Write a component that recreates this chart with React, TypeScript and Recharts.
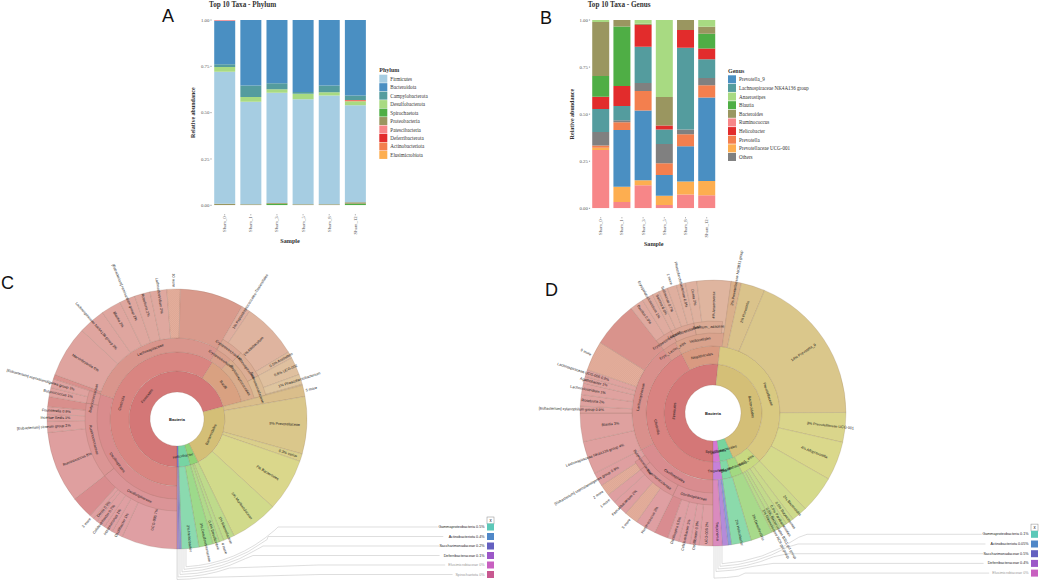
import React from 'react';
import { BarChart, Bar, XAxis, YAxis, PieChart, Pie, Cell } from 'recharts';

const samples = ['Sham_0', 'Sham_1', 'Sham_3', 'Sham_5', 'Sham_8', 'Sham_12'];
const yTicks = [0, 0.25, 0.5, 0.75, 1];

// Panel A, bottom of stack first
const spirochaetota = [0, 0, 0.008, 0, 0, 0.008];
const proteobacteria = [0.008, 0.006, 0.004, 0.006, 0.006, 0.008];
const firmicutes = [0.713, 0.553, 0.596, 0.566, 0.586, 0.524];
const desulfobacterota = [0.025, 0.025, 0.018, 0.03, 0.018, 0.021];
const actinobacteriota = [0, 0, 0, 0, 0, 0.004];
const deferribacterota = [0, 0, 0, 0, 0, 0.003];
const campylobacterota = [0.015, 0.063, 0.032, 0.009, 0.036, 0.024];
const bacteroidota = [0.235, 0.353, 0.342, 0.389, 0.354, 0.408];
const patescibacteria = [0.004, 0, 0, 0, 0, 0];
const elusimicrobiota = [0, 0, 0, 0, 0, 0];

const phylumLegend = ['Firmicutes', 'Bacteroidota', 'Campylobacterota', 'Desulfobacterota', 'Spirochaetota', 'Proteobacteria', 'Patescibacteria', 'Deferribacterota', 'Actinobacteriota', 'Elusimicrobiota'];
const phylumStack = ['Spirochaetota', 'Proteobacteria', 'Firmicutes', 'Desulfobacterota', 'Actinobacteriota', 'Deferribacterota', 'Campylobacterota', 'Bacteroidota', 'Patescibacteria', 'Elusimicrobiota'];
const phylumValues = [spirochaetota, proteobacteria, firmicutes, desulfobacterota, actinobacteriota, deferribacterota, campylobacterota, bacteroidota, patescibacteria, elusimicrobiota];
const phylumColors: Record<string, string> = {
  Firmicutes: '#a6cde2', Bacteroidota: '#4a8fc2', Campylobacterota: '#549c9e', Desulfobacterota: '#a8da82', Spirochaetota: '#4fae45',
  Proteobacteria: '#9a9660', Patescibacteria: '#f78688', Deferribacterota: '#e22c2c', Actinobacteriota: '#f37f4e', Elusimicrobiota: '#fdae50',
};

// Panel B, bottom of stack first
const ruminococcus = [0.31, 0.034, 0.122, 0.018, 0.073, 0.069];
const prevotellaceaeUCG = [0.012, 0.081, 0.027, 0.048, 0.069, 0.076];
const prevotella9 = [0, 0.301, 0.37, 0.111, 0.187, 0.443];
const prevotella = [0.011, 0.041, 0.104, 0.062, 0.064, 0.065];
const others = [0.072, 0.01, 0.042, 0.103, 0.025, 0.039];
const lachnoNK = [0.122, 0.076, 0.193, 0.077, 0.435, 0.099];
const helicobacter = [0.065, 0.107, 0.115, 0.021, 0.094, 0.058];
const blautia = [0.11, 0.315, 0, 0, 0, 0.078];
const bacteroides = [0.288, 0.035, 0.007, 0.151, 0.053, 0.037];
const anaerostipes = [0.01, 0, 0.02, 0.409, 0, 0.036];

const genusLegend = ['Prevotella_9', 'Lachnospiraceae NK4A136 group', 'Anaerostipes', 'Blautia', 'Bacteroides', 'Ruminococcus', 'Helicobacter', 'Prevotella', 'Prevotellaceae UCG-001', 'Others'];
const genusStack = ['Ruminococcus', 'Prevotellaceae UCG-001', 'Prevotella_9', 'Prevotella', 'Others', 'Lachnospiraceae NK4A136 group', 'Helicobacter', 'Blautia', 'Bacteroides', 'Anaerostipes'];
const genusValues = [ruminococcus, prevotellaceaeUCG, prevotella9, prevotella, others, lachnoNK, helicobacter, blautia, bacteroides, anaerostipes];
const genusColors: Record<string, string> = {
  Prevotella_9: '#4a8fc2', 'Lachnospiraceae NK4A136 group': '#549c9e', Anaerostipes: '#a8da82', Blautia: '#4fae45', Bacteroides: '#9a9660',
  Ruminococcus: '#f78688', Helicobacter: '#e22c2c', Prevotella: '#f37f4e', 'Prevotellaceae UCG-001': '#fdae50', Others: '#808080',
};

type Seg = { n: string; p?: string; v: number; gap?: boolean };
const G = (v: number): Seg => ({ n: '', v, gap: true });

// Panel C: shares in degrees, clockwise from six o'clock
const cPhylum: Seg[] = [{ n: 'Firmicutes', v: 255 }, { n: 'Bacteroidales', v: 79 }, { n: '', v: 10 }, { n: 'Helicobacter', v: 14 }, { n: '', v: 2 }];
const cClass: Seg[] = [{ n: 'Clostridia', v: 212 }, { n: 'Bacilli', v: 43 }, G(105)];
const cOrder: Seg[] = [{ n: 'Oscillospirales', v: 108 }, { n: 'Lachnospiraceae', v: 102 }, { n: 'Erysipelotrichales', v: 12 }, { n: 'Peptostreptococcales', v: 33 }, G(105)];
const cFamily: Seg[] = [{ n: 'Oscillospiraceae', v: 52 }, { n: 'Ruminococcaceae', v: 48 }, { n: 'Butyricicoccaceae', v: 8 }, G(102), { n: 'Erysipelotrichaceae', v: 14 }, { n: 'Lachnospiraceae', v: 18 }, { n: 'Selenomonadaceae', v: 13 }, G(105)];
const cGenus: Seg[] = [
  { n: 'UCG-005', p: '7%', v: 25 }, { n: 'Oscillibacter', p: '1%', v: 5 }, { n: 'Intestinimonas', p: '1%', v: 4 }, { n: 'Colidextribacter', p: '0.7%', v: 4 }, { n: 'Dorea', p: '0.5%', v: 2 }, { n: '3 more', v: 2 },
  { n: '', v: 10 }, { n: 'Ruminococcus', p: '8%', v: 32 }, { n: '[Eubacterium] siraeum group', p: '2%', v: 5 }, { n: 'Incertae Sedis', p: '1%', v: 3 }, { n: 'Fournierella', p: '0.9%', v: 3.5 },
  { n: '', v: 4.5 }, { n: 'Butyricicoccus', p: '1%', v: 4 }, { n: '[Eubacterium] coprostanoligenes group', p: '1%', v: 4 }, { n: '', v: 2 }, { n: 'Marvinbryantia', p: '6%', v: 23 },
  { n: 'Lachnospiraceae NK4A136 group', p: '3%', v: 12 }, { n: 'Blautia', p: '2%', v: 9 }, { n: '[Eubacterium] ruminantium group', p: '2%', v: 7 }, { n: 'Roseburia', p: '2%', v: 7 }, { n: 'Lachnoclostridium', p: '2%', v: 7.5 },
  { n: '10 more', v: 6 }, { n: '', v: 28.5 }, { n: 'Peptostreptococcales-Tissierellales', p: '1%', v: 4 }, { n: 'Allobaculum', p: '1%', v: 25 }, { n: 'Acetivibrio', p: '0.5%', v: 3 }, { n: 'UCG-002', p: '0.8%', v: 8 },
  { n: 'Phascolarctobacterium', p: '1%', v: 4.5 }, { n: '', v: 0.5 }, G(105),
];
const cWedge: Seg[] = [
  G(255), { n: '5 more', v: 5 }, { n: 'Prevotellaceae', p: '9%', v: 25.6 }, { n: 'varius', p: '0.3%', v: 3.4 }, { n: 'Bacteroides', p: '7%', v: 23.6 }, { n: 'Muribaculaceae', p: '5%', v: 21.4 },
  { n: 'Rikenellaceae', p: '1%', v: 5 }, { n: '4 more', v: 2 }, { n: 'Desulfovibrio', p: '0.4%', v: 3 }, { n: 'Desulfovibrionaceae', p: '3%', v: 6.3 }, { n: 'Helicobacter', p: '2%', v: 7.7 },
  { n: '', v: 0.7 }, { n: '', v: 0.7 }, { n: '', v: 0.6 },
];
const cKeyNames = ['Gammaproteobacteria', 'Actinobacteriota', 'Saccharimonadaceae', 'Deferribacteraceae', 'Elusimicrobiaceae', 'Spirochaetota'];
const cKeyPct = ['0.5%', '0.4%', '0.2%', '0.1%', '0%', '0%'];
const cHues = [[0, 356], [100, 2], [190, 10], [212, 14], [235, 22], [256, 38], [272, 45], [300, 57], [325, 68], [340, 85], [347, 105], [354, 145], [358, 210], [360, 275]];
const cPhylumHues = [[0, 0], [255, 0], [256, 46], [334, 46], [335, 105], [344, 105], [345, 148], [358, 148], [359, 240], [360, 240]];

// Panel D
const dPhylum: Seg[] = [{ n: 'Firmicutes', v: 186 }, { n: 'Bacteroidales', v: 150 }, { n: 'Helicobacterales', v: 16 }, { n: 'Spirochaetia', v: 8 }];
const dClass: Seg[] = [{ n: 'Clostridia', v: 152 }, { n: 'Negativicutes', v: 34 }, { n: 'Prevotellaceae', v: 130 }, { n: 'Bact._ales', v: 18 }, { n: 'Desulfobacterota', v: 10 }, { n: 'Hel._ter', v: 8 }, { n: 'Treponema', v: 8 }];
const dOrder: Seg[] = [{ n: 'Oscillospirales', v: 63 }, { n: 'Lachnospiraceae', v: 79 }, { n: 'Erys._Lachn._ales', v: 10 }, { n: 'Veillonellales', v: 36 }, G(172)];
const dFamily: Seg[] = [{ n: 'Oscillospiraceae', v: 26 }, { n: 'Ruminococcaceae', v: 26 }, { n: 'Butyricicoccaceae', v: 6 }, G(84), { n: 'Erysipelotrichaceae', v: 11 }, { n: 'Lachnoclostridiaceae', v: 15 }, { n: 'Selenom._adaceae', v: 18 }, G(174)];
const dGenus: Seg[] = [
  { n: 'UCG-005', p: '2%', v: 6 }, { n: 'Oscillibacter', p: '0.9%', v: 4 }, { n: 'Colidextribacter', p: '1%', v: 5 }, { n: 'Oscillospira', p: '0.5%', v: 5 }, { n: '', v: 6 },
  { n: 'Ruminococcus', p: '2%', v: 9 }, { n: '5 more', v: 6 }, { n: 'Faecalibacterium', p: '2%', v: 7 }, { n: '1 more', v: 4 }, { n: '2 more', v: 5 },
  { n: '[Eubacterium] coprostanoligenes group', p: '0.9%', v: 6 }, { n: 'Lachnospiraceae NK4A136 group', p: '4%', v: 14.5 }, { n: 'Blautia', p: '3%', v: 12.5 }, { n: '[Eubacterium] xylanophilum group', p: '0.9%', v: 3 },
  { n: 'Roseburia', p: '2%', v: 5 }, { n: 'Lachnoclostridium', p: '1%', v: 5 }, { n: 'Agathobacter', p: '1%', v: 3 }, { n: 'Lachnospiraceae UCG-006', p: '0.9%', v: 3 }, { n: '9 more', v: 13 }, { n: '', v: 20 },
  { n: 'Bacillus', p: '0.9%', v: 6 }, { n: 'Erysipelatoclostridium', p: '1%', v: 5 }, { n: 'Sarcina', p: '0.6%', v: 3 }, { n: 'Sellimonas', p: '0.7%', v: 4 }, { n: '1 more', v: 4 }, { n: 'Phascolarctobacterium', p: '0.9%', v: 4 },
  { n: 'Dorea', p: '2%', v: 5 }, { n: 'Anaerovorax', p: '4%', v: 15 }, G(172),
];
const dWedge: Seg[] = [
  G(188), { n: 'Prevotellaceae NK3B31 group', p: '2%', v: 4.5 }, { n: 'Prevotella', p: '2%', v: 10.5 }, { n: 'Prevotella_9', p: '14%', v: 67 }, { n: 'Prevotellaceae UCG-001', p: '3%', v: 13 }, { n: 'Alloprevotella', p: '4%', v: 17 }, { n: '', v: 16.3 },
  { n: 'Bacteroides', p: '2%', v: 7 }, { n: 'Butyricimonas', p: '0.5%', v: 3.5 }, { n: 'Parabacteroides', p: '0.5%', v: 3 }, { n: 'Bacteroidales BS11 gut group', p: '0.8%', v: 2 }, { n: 'Rikenellaceae RC9 gut group', p: '1%', v: 2.2 },
  { n: 'Desulfovibrio', p: '3%', v: 9.6 }, { n: 'Helicobacter', p: '2%', v: 8.7 }, { n: '', v: 1.5 }, { n: '', v: 2.5 }, { n: 'Treponema', p: '', v: 4 },
];
const dKeyNames = ['Gammaproteobacteria', 'Actinobacteriota', 'Saccharimonadaceae', 'Deferribacteraceae', 'Elusimicrobiaceae'];
const dKeyPct = ['0.1%', '0.05%', '0.5%', '0.4%', '0%'];
const dHues = [[0, 355], [90, 2], [130, 5], [160, 14], [188, 22], [195, 42], [236, 45], [276, 56], [300, 60], [325, 72], [340, 100], [348, 145], [353, 225], [355, 270], [358, 320], [360, 330]];
const dPhylumHues = [[0, 0], [186, 0], [187, 46], [336, 46], [337, 145], [352, 145], [353, 300], [360, 300]];

const keyColors = ['#5cc8b8', '#5088c8', '#6460c0', '#9c58c8', '#c860c0', '#c85890'];

const SERIF = '"Liberation Serif", serif';
const SANS = '"Liberation Sans", Arial, sans-serif';
const LABEL_SIZE = 3.7;

function Letter({ x, y, t }: { x: number; y: number; t: string }) {
  return <div style={{ position: 'absolute', left: x, top: y - 16, font: `18px ${SANS}`, lineHeight: '18px', color: '#111' }}>{t}</div>;
}

function StackChart(props: any) {
  const { left, plotL, plotR, plotB, title, titleX, legendTitle, legendNames, legendX, legendY, legendStep, stack, values, colors, xLabelOffset, yTitleX, sampleY } = props;
  const W = 340, H = 250, yW = 40, xH = 20;
  const table = samples.map((s, i) => {
    const row: any = { sample: s };
    stack.forEach((name: string, k: number) => { row[name] = values[k][i]; });
    return row;
  });
  const tick = (p: any) => (
    <g>
      <line x1={p.x} x2={p.x} y1={p.y + xLabelOffset - 2} y2={p.y + xLabelOffset - 1} stroke="#555" strokeWidth={0.6} />
      <text transform={`translate(${p.x},${p.y + xLabelOffset}) rotate(-90)`} textAnchor="end" dominantBaseline="central" fontSize={4.8} fontFamily={SERIF} fill="#555">{p.payload.value}</text>
    </g>
  );
  return (
    <div style={{ position: 'absolute', left, top: 0, width: W, height: H }}>
      <BarChart width={W} height={H} data={table} barCategoryGap="10%" margin={{ left: plotL - yW, right: W - plotR, top: 20, bottom: H - plotB - xH }}>
        <XAxis dataKey="sample" interval={0} axisLine={false} tickLine={false} height={xH} tickSize={0} tick={tick} />
        <YAxis width={yW} domain={[0, 1]} ticks={yTicks} allowDataOverflow axisLine={false} tickSize={1.2} tickMargin={1} tickLine={{ stroke: '#555', strokeWidth: 0.6 }} tickFormatter={(v: number) => v.toFixed(2)} tick={{ fontSize: 4.8, fontFamily: SERIF, fill: '#555' }} />
        {stack.map((name: string) => (
          <Bar key={name} dataKey={name} stackId="s" fill={colors[name]} isAnimationActive={false} />
        ))}
        <text x={titleX} y={7} fontFamily={SERIF} fontWeight="bold" fontSize={7.2} fill="#333">{title}</text>
        <text x={(plotL + plotR) / 2} y={sampleY} textAnchor="middle" fontFamily={SERIF} fontWeight="bold" fontSize={6.2} fill="#333">Sample</text>
        <text transform={`translate(${yTitleX},${(20 + plotB) / 2}) rotate(-90)`} textAnchor="middle" dominantBaseline="central" fontFamily={SERIF} fontWeight="bold" fontSize={6} fill="#333">Relative abundance</text>
        <text x={legendX} y={legendY - 8.5} dominantBaseline="central" fontFamily={SERIF} fontWeight="bold" fontSize={6} fill="#333">{legendTitle}</text>
        {legendNames.map((name: string, i: number) => (
          <g key={name}>
            <rect x={legendX} y={legendY + i * legendStep - 4} width={8} height={8} fill={colors[name]} />
            <text x={legendX + 11} y={legendY + i * legendStep} dominantBaseline="central" fontFamily={SERIF} fontSize={5.1} fill="#333">{name}</text>
          </g>
        ))}
      </BarChart>
    </div>
  );
}

function hueAt(table: number[][], t: number) {
  for (let i = 1; i < table.length; i++) {
    if (t <= table[i][0]) {
      const [a, ha] = table[i - 1];
      const [b, hb] = table[i];
      let d = hb - ha;
      if (d < -180) d += 360;
      if (d > 180) d -= 360;
      return (ha + (d * (t - a)) / (b - a) + 360) % 360;
    }
  }
  return table[table.length - 1][1];
}

function Krona(props: any) {
  const { id, left, top, cx, cy, R, radii, rings, hues, phylumHues, keyNames, keyPct, keyX, keyY, keyStep, kinks } = props;
  const W = 520, H = 335;
  const { phylum, klass, order, family, genus, wedge } = rings;

  const cells = (data: Seg[], sat: number, light: number, table: number[][]) => {
    let acc = 0;
    return data.map((d, i) => {
      const mid = acc + d.v / 2;
      acc += d.v;
      if (d.gap) return <Cell key={i} fill="none" stroke="none" />;
      const hatched = / more$/.test(d.n) && d.v >= 5 && mid < 200;
      const blank = d.n === '' && light > 72;
      const fill = hatched ? `url(#${id}h)` : `hsl(${hueAt(table, mid).toFixed(1)},${sat}%,${blank ? light - 5 : light}%)`;
      return <Cell key={i} fill={fill} stroke="#7a5a4a" strokeOpacity={0.5} strokeWidth={0.35} />;
    });
  };

  const tangent = (rr: number) => (p: any) => {
    const name = p.n ?? p.payload?.n;
    if (!name) return null;
    const a = p.midAngle;
    const rad = (a * Math.PI) / 180;
    const x = p.cx + rr * Math.cos(rad);
    const y = p.cy - rr * Math.sin(rad);
    const rot = Math.sin(rad) >= 0 ? -a + 90 : -a - 90;
    return <text transform={`translate(${x},${y}) rotate(${rot})`} textAnchor="middle" dominantBaseline="central" fontSize={LABEL_SIZE} fontFamily={SANS} fill="#1a1a1a">{name}</text>;
  };

  const radial = (p: any) => {
    const name = p.n ?? p.payload?.n;
    if (!name) return null;
    const value = p.v ?? p.payload?.v;
    const pct = p.p ?? p.payload?.p;
    const a = p.midAngle;
    const rad = (a * Math.PI) / 180;
    const more = / more$/.test(name);
    const rr = more ? R + 2 : value >= 10 ? R * 0.71 : R * 0.82;
    const x = p.cx + rr * Math.cos(rad);
    const y = p.cy - rr * Math.sin(rad);
    const leftSide = Math.cos(rad) < 0;
    const rot = leftSide ? -a + 180 : -a;
    const label = pct ? (leftSide ? `${name}  ${pct}` : `${pct}  ${name}`) : name;
    return <text transform={`translate(${x},${y}) rotate(${rot})`} textAnchor={leftSide ? 'end' : 'start'} dominantBaseline="central" fontSize={LABEL_SIZE} fontFamily={SANS} fill="#1a1a1a">{label}</text>;
  };

  const ring = (data: Seg[], ir: number, or: number, s: number, l: number, label: any, table: number[][] = hues) => (
    <Pie data={data} dataKey="v" nameKey="n" cx={cx} cy={cy} innerRadius={ir} outerRadius={or} startAngle={270} endAngle={-90} paddingAngle={0} label={label} labelLine={false} isAnimationActive={false}>
      {cells(data, s, l, table)}
    </Pie>
  );

  const wheelEnds = [9, 7, 5, 3, 1, 0];
  return (
    <div style={{ position: 'absolute', left, top, width: W, height: H }}>
      <PieChart width={W} height={H} margin={{ left: 0, right: 0, top: 0, bottom: 0 }}>
        <defs>
          <pattern id={`${id}h`} width={1.4} height={1.4} patternUnits="userSpaceOnUse" patternTransform="rotate(45)">
            <rect width={1.4} height={1.4} fill="#e4ae9c" />
            <line x1={0} y1={0} x2={0} y2={1.4} stroke="#d49c88" strokeWidth={0.5} />
          </pattern>
        </defs>
        {keyNames.map((nm: string, i: number) => {
          const y = keyY + i * keyStep - top;
          const tx = keyX - left - 3 - (nm.length + keyPct[i].length + 2) * 1.85;
          const kx = kinks[i] - left;
          const dy = y + 3 - cy;
          const r = Math.max(R + 18 + i * 2.5, dy + 2);
          const px = cx + Math.sqrt(r * r - dy * dy);
          const sx = cx + wheelEnds[i];
          const sy = cy + Math.sqrt(r * r - wheelEnds[i] * wheelEnds[i]);
          return <path key={nm} d={`M${tx},${y} L${kx},${y} L${px},${y + 3} A${r},${r} 0 0 1 ${sx},${sy} L${sx},${cy + R}`} fill="none" stroke="#d0d0d0" strokeWidth={0.7} />;
        })}
        {ring(phylum, radii[0], radii[1], 52, 65, tangent((radii[0] + radii[1]) / 2), phylumHues)}
        {ring(klass, radii[1], radii[2], 54, 68, tangent((radii[1] + radii[2]) / 2))}
        {ring(order, radii[2], radii[3], 50, 70, tangent((radii[2] + radii[3]) / 2))}
        {ring(genus, radii[3], R, 50, 75, radial)}
        {ring(family, radii[3] - 1, radii[4], 50, 72, tangent((radii[3] + radii[4]) / 2 - 0.5))}
        {ring(wedge, props.wedgeR, R, 52, 70, radial)}
        <text x={cx} y={cy} textAnchor="middle" dominantBaseline="central" fontSize={4} fontWeight="bold" fontFamily={SANS} fill="#111">Bacteria</text>
        <rect x={keyX - left} y={keyY - keyStep - top - 0.5} width={7} height={7} fill="#fff" stroke="#888" strokeWidth={0.5} />
        <text x={keyX - left + 3.5} y={keyY - keyStep - top + 3} textAnchor="middle" dominantBaseline="central" fontSize={4.5} fontFamily={SANS} fill="#111">x</text>
        {keyNames.map((nm: string, i: number) => {
          const y = keyY + i * keyStep - top;
          const muted = keyPct[i] === '0%';
          return (
            <g key={nm}>
              <rect x={keyX - left} y={y - 3.5} width={7} height={7} fill={keyColors[i]} />
              <text x={keyX - left - 2.5} y={y} textAnchor="end" dominantBaseline="central" fontSize={LABEL_SIZE} fontFamily={SANS} fill={muted ? '#999' : '#222'}>{`${nm}  ${keyPct[i]}`}</text>
            </g>
          );
        })}
      </PieChart>
    </div>
  );
}

export default function App() {
  return (
    <div style={{ position: 'absolute', left: 0, top: 0, width: 1040, height: 585, background: '#fff', overflow: 'hidden' }}>
      <StackChart left={150} plotL={61.6} plotR={218.4} plotB={205.3} title="Top 10 Taxa - Phylum" titleX={59} legendTitle="Phylum" legendNames={phylumLegend} legendX={229.3} legendY={78.7} legendStep={8.47} stack={phylumStack} values={phylumValues} colors={phylumColors} xLabelOffset={9} yTitleX={42.7} sampleY={243} />
      <StackChart left={510} plotL={80.1} plotR={207.3} plotB={208.3} title="Top 10 Taxa - Genus" titleX={77.7} legendTitle="Genus" legendNames={genusLegend} legendX={218} legendY={79.3} legendStep={8.63} stack={genusStack} values={genusValues} colors={genusColors} xLabelOffset={9} yTitleX={61.7} sampleY={246} />
      <Krona id="c" left={0} top={250} cx={177} cy={169} R={130} radii={[27, 48, 67, 81, 92]} wedgeR={48}
        rings={{ phylum: cPhylum, klass: cClass, order: cOrder, family: cFamily, genus: cGenus, wedge: cWedge }} hues={cHues} phylumHues={cPhylumHues}
        keyNames={cKeyNames} keyPct={cKeyPct} keyX={487} keyY={527} keyStep={9.5} kinks={[278, 268, 263, 253, 318, 320]} />
      <Krona id="d" left={520} top={250} cx={193} cy={163} R={133} radii={[28, 49, 67, 81, 92]} wedgeR={67}
        rings={{ phylum: dPhylum, klass: dClass, order: dOrder, family: dFamily, genus: dGenus, wedge: dWedge }} hues={dHues} phylumHues={dPhylumHues}
        keyNames={dKeyNames} keyPct={dKeyPct} keyX={1031} keyY={534.3} keyStep={9.7} kinks={[807, 798, 788, 773, 745]} />
      <Letter x={162} y={23} t="A" />
      <Letter x={540} y={25} t="B" />
      <Letter x={1} y={290} t="C" />
      <Letter x={545} y={297} t="D" />
    </div>
  );
}
